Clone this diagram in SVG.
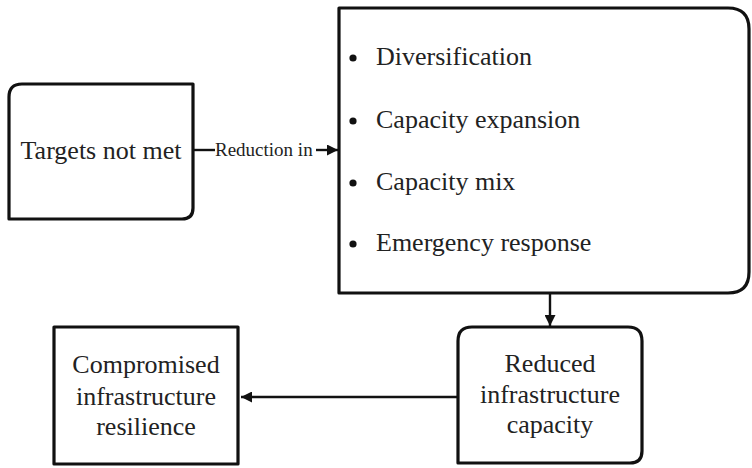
<svg xmlns="http://www.w3.org/2000/svg" width="752" height="468" viewBox="0 0 752 468">
<style>
.box{fill:#fff;stroke:#111;stroke-width:3.2;stroke-linejoin:round}
.conn{fill:none;stroke:#111;stroke-width:2.4}
.t{font-family:"Liberation Serif","Times New Roman",serif;font-size:26px;fill:#222}
.c{text-anchor:middle}
.lbl{font-family:"Liberation Serif","Times New Roman",serif;font-size:19px;fill:#222}
</style>
<defs>
<marker id="ah2" viewBox="0 0 10 10" refX="10" refY="5" markerWidth="11" markerHeight="11" markerUnits="userSpaceOnUse" orient="auto">
<path d="M0,0 L10,5 L0,10 Z" fill="#111"/>
</marker>
</defs>
<g id="connectors">
<path class="conn" d="M193,150 H215"/>
<path class="conn" d="M316,150 H338" marker-end="url(#ah2)"/>
<path class="conn" d="M550,293 V326" marker-end="url(#ah2)"/>
<path class="conn" d="M458,397 H241" marker-end="url(#ah2)"/>
<text class="lbl" x="215" y="156">Reduction in</text>
</g>
<g id="targets">
<path class="box" d="M22,84 H193 V208 Q193,219 182,219 H9 V97 Q9,84 22,84 Z"/>
<text class="t c" x="101" y="159">Targets not met</text>
</g>
<g id="measures">
<path class="box" d="M339,8 H728 Q749,8 749,29 V272 Q749,293 728,293 H339 Z"/>
<circle cx="353" cy="58" r="3.6" fill="#111"/>
<circle cx="353" cy="121" r="3.6" fill="#111"/>
<circle cx="353" cy="183" r="3.6" fill="#111"/>
<circle cx="353" cy="244" r="3.6" fill="#111"/>
<text class="t" x="376" y="65">Diversification</text>
<text class="t" x="376" y="128">Capacity expansion</text>
<text class="t" x="376" y="190">Capacity mix</text>
<text class="t" x="376" y="251">Emergency response</text>
</g>
<g id="reduced">
<path class="box" d="M472,327 H628 Q642,327 642,341 V451 Q642,463 630,463 H458 V341 Q458,327 472,327 Z"/>
<text class="t c" x="550" y="372">Reduced</text>
<text class="t c" x="550" y="403">infrastructure</text>
<text class="t c" x="550" y="433">capacity</text>
</g>
<g id="compromised">
<rect class="box" x="54" y="327" width="184" height="137"/>
<text class="t c" x="146" y="373">Compromised</text>
<text class="t c" x="146" y="405">infrastructure</text>
<text class="t c" x="146" y="435">resilience</text>
</g>
</svg>
